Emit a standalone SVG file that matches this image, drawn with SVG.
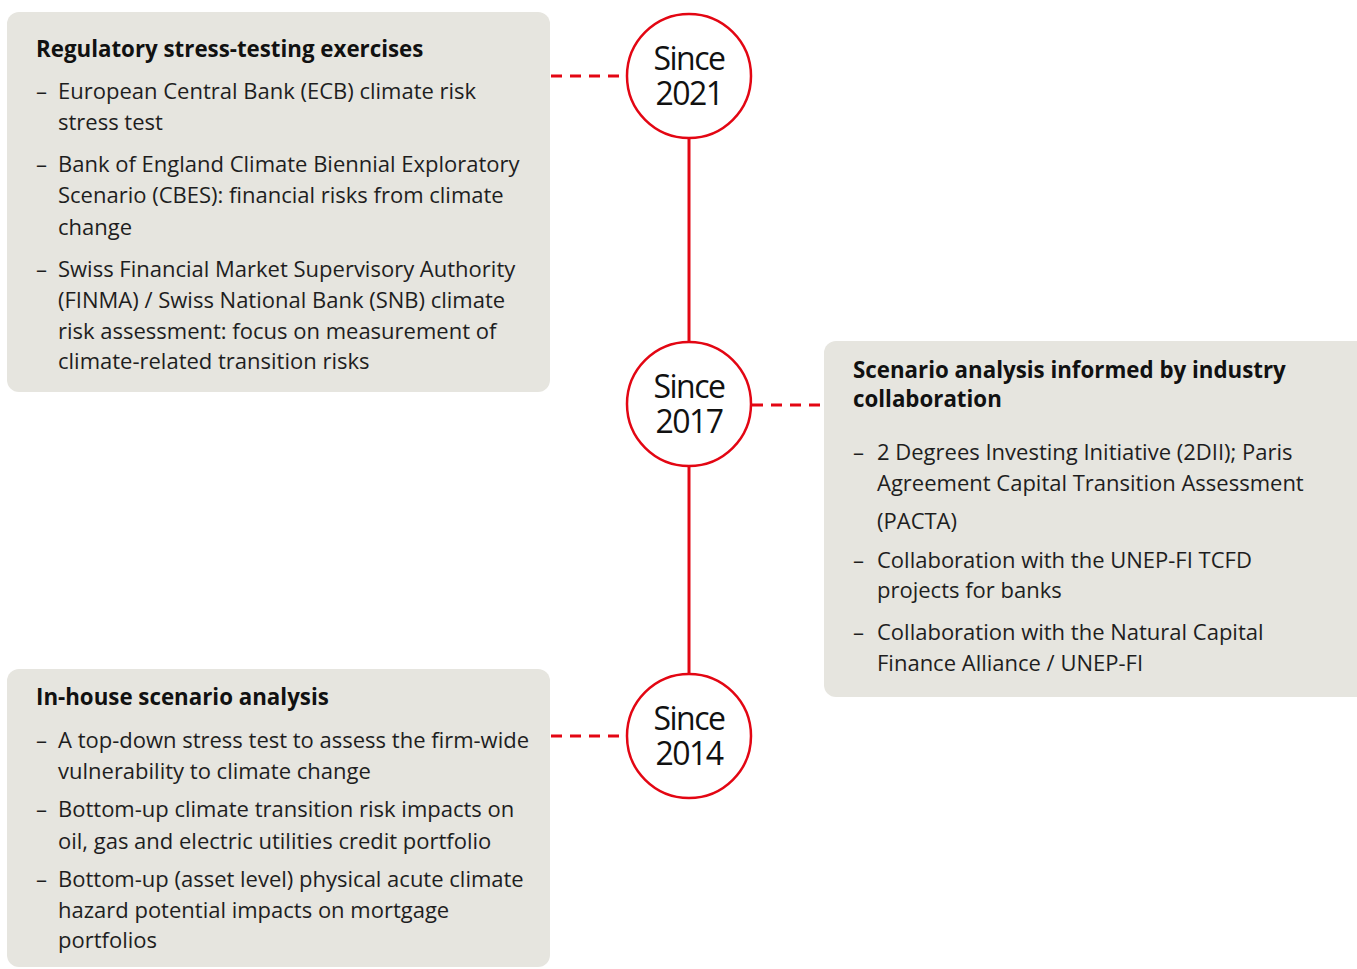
<svg xmlns="http://www.w3.org/2000/svg" width="1357" height="969" viewBox="0 0 1357 969">
<style>
.box{fill:#e6e5df}
.t{font-family:"Open Sans","Liberation Sans",sans-serif;font-size:22px;fill:#1e1e1e}
.h{font-family:"Open Sans","Liberation Sans",sans-serif;font-size:22.3px;font-weight:700;fill:#111}
.c{font-family:"Open Sans","Liberation Sans",sans-serif;font-size:32px;letter-spacing:-1.5px;fill:#111;text-anchor:middle}
.ring{fill:#fff;stroke:#e30613;stroke-width:2.5}
.solid{stroke:#e30613;stroke-width:3;fill:none}
.dash{stroke:#e30613;stroke-width:3;fill:none;stroke-dasharray:11 8}
</style>
<rect width="1357" height="969" fill="#fff"/>
<g id="connectors">
<line class="solid" x1="689" y1="138" x2="689" y2="342"/>
<line class="solid" x1="689" y1="466" x2="689" y2="674"/>
<line class="dash" x1="551" y1="76" x2="627" y2="76"/>
<line class="dash" x1="752" y1="405" x2="824" y2="405"/>
<line class="dash" x1="551" y1="736" x2="627" y2="736"/>
</g>
<g id="box-regulatory">
<rect class="box" x="7" y="12" width="543" height="380" rx="12"/>
<text class="h" x="36" y="57">Regulatory stress-testing exercises</text>
<text class="t" x="36" y="99">–</text>
<text class="t" x="58" y="99">European Central Bank (ECB) climate risk</text>
<text class="t" x="58" y="130">stress test</text>
<text class="t" x="36" y="172">–</text>
<text class="t" x="58" y="172">Bank of England Climate Biennial Exploratory</text>
<text class="t" x="58" y="203">Scenario (CBES): financial risks from climate</text>
<text class="t" x="58" y="235">change</text>
<text class="t" x="36" y="277">–</text>
<text class="t" x="58" y="277">Swiss Financial Market Supervisory Authority</text>
<text class="t" x="58" y="308">(FINMA) / Swiss National Bank (SNB) climate</text>
<text class="t" x="58" y="339">risk assessment: focus on measurement of</text>
<text class="t" x="58" y="369">climate-related transition risks</text>
</g>
<g id="box-industry">
<rect class="box" x="824" y="341" width="545" height="356" rx="12"/>
<text class="h" x="853" y="378">Scenario analysis informed by industry</text>
<text class="h" x="853" y="407">collaboration</text>
<text class="t" x="853" y="460">–</text>
<text class="t" x="877" y="460">2 Degrees Investing Initiative (2DII); Paris</text>
<text class="t" x="877" y="491">Agreement Capital Transition Assessment</text>
<text class="t" x="877" y="529">(PACTA)</text>
<text class="t" x="853" y="568">–</text>
<text class="t" x="877" y="568">Collaboration with the UNEP-FI TCFD</text>
<text class="t" x="877" y="598">projects for banks</text>
<text class="t" x="853" y="640">–</text>
<text class="t" x="877" y="640">Collaboration with the Natural Capital</text>
<text class="t" x="877" y="671">Finance Alliance / UNEP-FI</text>
</g>
<g id="box-inhouse">
<rect class="box" x="7" y="669" width="543" height="298" rx="12"/>
<text class="h" x="36" y="705">In-house scenario analysis</text>
<text class="t" x="36" y="748">–</text>
<text class="t" x="58" y="748">A top-down stress test to assess the firm-wide</text>
<text class="t" x="58" y="779">vulnerability to climate change</text>
<text class="t" x="36" y="817">–</text>
<text class="t" x="58" y="817">Bottom-up climate transition risk impacts on</text>
<text class="t" x="58" y="849">oil, gas and electric utilities credit portfolio</text>
<text class="t" x="36" y="887">–</text>
<text class="t" x="58" y="887">Bottom-up (asset level) physical acute climate</text>
<text class="t" x="58" y="918">hazard potential impacts on mortgage</text>
<text class="t" x="58" y="948">portfolios</text>
</g>
<g id="since-2021">
<circle class="ring" cx="689" cy="76" r="62"/>
<text class="c"><tspan x="689" y="70">Since</tspan><tspan x="689" y="105">2021</tspan></text>
</g>
<g id="since-2017">
<circle class="ring" cx="689" cy="404" r="62"/>
<text class="c"><tspan x="689" y="398">Since</tspan><tspan x="689" y="433">2017</tspan></text>
</g>
<g id="since-2014">
<circle class="ring" cx="689" cy="736" r="62"/>
<text class="c"><tspan x="689" y="730">Since</tspan><tspan x="689" y="765">2014</tspan></text>
</g>
</svg>
